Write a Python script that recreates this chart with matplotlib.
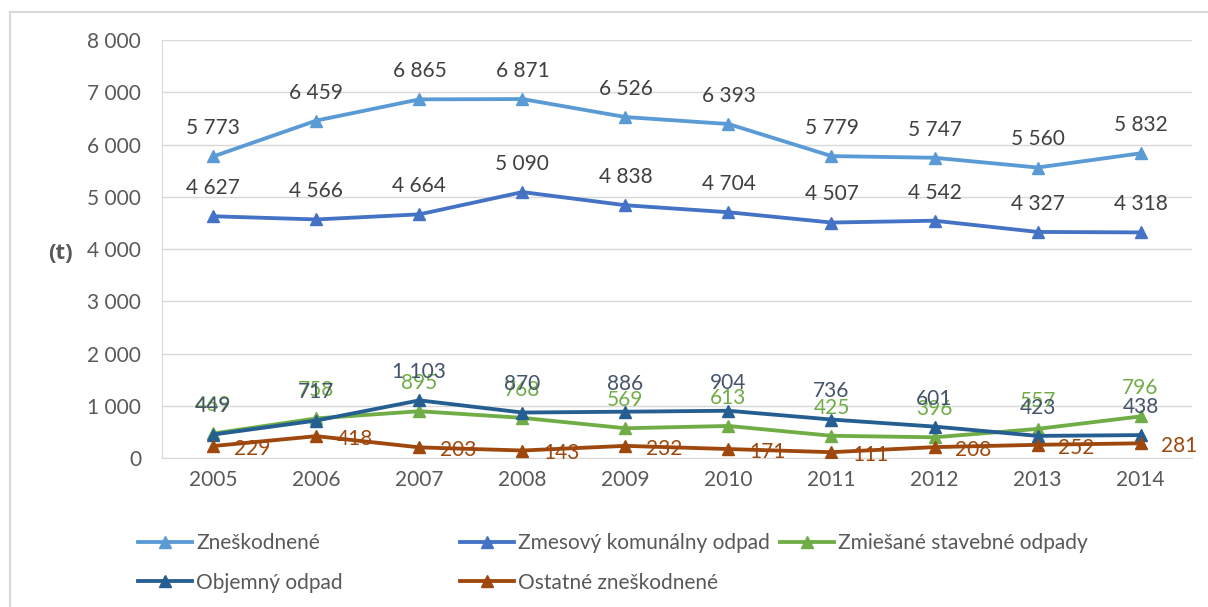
import matplotlib.pyplot as plt
from matplotlib.patches import Rectangle

plt.rcParams['font.family'] = ['Lato', 'DejaVu Sans']

years = ['2005', '2006', '2007', '2008', '2009', '2010', '2011', '2012', '2013', '2014']
zneskodnene = [5773, 6459, 6865, 6871, 6526, 6393, 5779, 5747, 5560, 5832]
zmesovy = [4627, 4566, 4664, 5090, 4838, 4704, 4507, 4542, 4327, 4318]
zmiesane = [469, 758, 895, 768, 569, 613, 425, 396, 557, 796]
objemny = [449, 717, 1103, 870, 886, 904, 736, 601, 423, 438]
ostatne = [229, 418, 203, 143, 232, 171, 111, 208, 252, 281]

series = [
    ('Zneškodnené', zneskodnene, '#5B9BD5', '#404040', 'above'),
    ('Zmesový komunálny odpad', zmesovy, '#4472C4', '#404040', 'above'),
    ('Zmiešané stavebné odpady', zmiesane, '#70AD47', '#70AD47', 'above'),
    ('Objemný odpad', objemny, '#255E91', '#44546A', 'above'),
    ('Ostatné zneškodnené', ostatne, '#9E480E', '#9E480E', 'right'),
]


def fmt(v):
    return f'{v:,}'.replace(',', ' ')


fig = plt.figure(figsize=(12.08, 6.07), dpi=100)
# chart frame (right and bottom edges fall outside the crop)
fig.patches.append(Rectangle((0.0083, -0.05), 1.1, 1.03, transform=fig.transFigure,
                             fill=False, edgecolor='#D9D9D9', lw=1.5))
ax = fig.add_axes([0.134, 0.2455, 0.8528, 0.6885])

x = list(range(len(years)))
handles = {}
for name, vals, col, lcol, pos in series:
    h, = ax.plot(x, vals, color=col, lw=2.75, marker='^', ms=9, label=name, zorder=3)
    handles[name] = h
    for xi, v in zip(x, vals):
        if pos == 'above':
            ax.annotate(fmt(v), (xi, v), xytext=(0, 13), textcoords='offset points',
                        ha='center', va='bottom', fontsize=15, color=lcol)
        else:
            ax.annotate(fmt(v), (xi, v), xytext=(15, -2), textcoords='offset points',
                        ha='left', va='center', fontsize=15, color=lcol)

ax.set_xlim(-0.5, 9.5)
ax.set_ylim(0, 8000)
ax.set_yticks(range(0, 8001, 1000))
ax.set_yticklabels([fmt(v) for v in range(0, 8001, 1000)])
ax.set_xticks(x)
ax.set_xticklabels(years)
ax.grid(axis='y', color='#D9D9D9', lw=1)
ax.set_axisbelow(True)
for s in ax.spines.values():
    s.set_visible(False)
ax.spines['left'].set_visible(True)
ax.spines['left'].set_color('#D9D9D9')
ax.spines['bottom'].set_visible(True)
ax.spines['bottom'].set_color('#D9D9D9')
ax.tick_params(length=0, labelsize=15, labelcolor='#595959')
ax.tick_params(axis='x', pad=9)
ax.tick_params(axis='y', pad=15)
fig.text(0.050, 0.583, '(t)', fontsize=16, fontweight='bold', color='#595959',
         family=['Open Sans', 'DejaVu Sans'], ha='center', va='center')

cols = [(['Zneškodnené', 'Objemný odpad'], 0.1142),
        (['Zmesový komunálny odpad', 'Ostatné zneškodnené'], 0.3808),
        (['Zmiešané stavebné odpady'], 0.6457)]
for names, xpos in cols:
    leg = fig.legend([handles[n] for n in names], names, loc='upper left',
                     bbox_to_anchor=(xpos, 0.122), frameon=False, fontsize=15,
                     handlelength=2.6, handletextpad=0.2, labelspacing=0.95,
                     borderaxespad=0, borderpad=0)
    for t in leg.get_texts():
        t.set_color('#595959')

fig.savefig('out.png', dpi=100)
